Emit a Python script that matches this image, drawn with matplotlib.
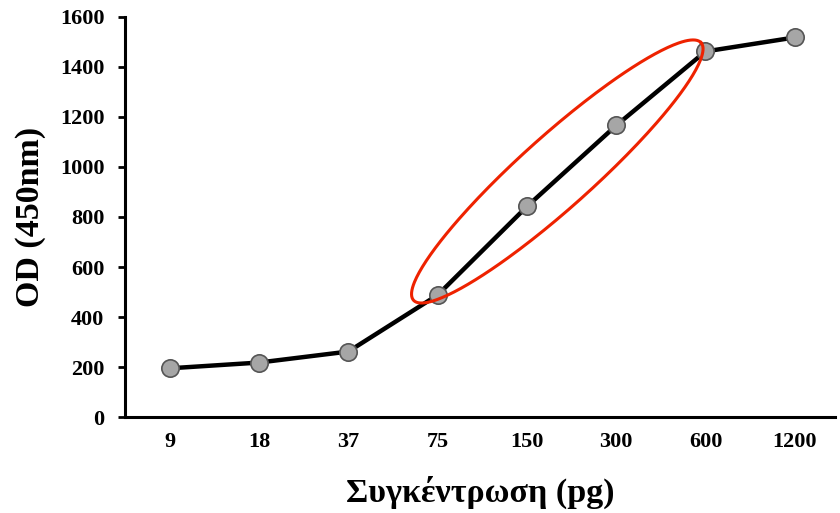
import numpy as np
import matplotlib.pyplot as plt

# concentration (pg) categories and measured OD at 450nm
conc_labels = ['9', '18', '37', '75', '150', '300', '600', '1200']
od_values = [195, 218, 262, 488, 842, 1166, 1462, 1518]

plt.rcParams['font.family'] = ['Liberation Serif', 'DejaVu Serif']
plt.rcParams['font.weight'] = 'bold'

fig = plt.figure(figsize=(8.4, 5.13), dpi=100)
ax = fig.add_axes([0.149, 0.187, 0.845, 0.780])

x = np.arange(len(conc_labels))
ax.plot(x, od_values, color='black', lw=3.2, marker='o', markersize=12.5,
        markerfacecolor='#a6a6a6', markeredgecolor='#555555', markeredgewidth=1.2,
        zorder=3)

# red ellipse highlighting the linear range (75 - 600 pg)
t = np.linspace(0, 2 * np.pi, 300)
cx, cy = 4.34, 982
ex = cx + 1.61 * np.cos(t) - 0.27 * np.sin(t)
ey = cy + 515 * np.cos(t) + 107 * np.sin(t)
ax.plot(ex, ey, color='#ee2200', lw=2.2, zorder=4)

ax.set_xlim(-0.5, 7.45)
ax.set_ylim(0, 1600)
ax.set_yticks(range(0, 1601, 200))
ax.set_xticks(x)
ax.set_xticklabels(conc_labels)

ax.spines['top'].set_visible(False)
ax.spines['right'].set_visible(False)
ax.spines['left'].set_linewidth(2.2)
ax.spines['bottom'].set_linewidth(2.2)
ax.tick_params(axis='y', direction='out', length=5, width=2, pad=10, labelsize=16)
ax.tick_params(axis='x', length=0, pad=11, labelsize=16)

ax.set_ylabel('OD (450nm)', fontsize=24.5, fontweight='bold', labelpad=10)
ax.set_xlabel('Συγκέντρωση (pg)', fontsize=24.5, fontweight='bold', labelpad=17)

fig.savefig('out.png', dpi=100)
